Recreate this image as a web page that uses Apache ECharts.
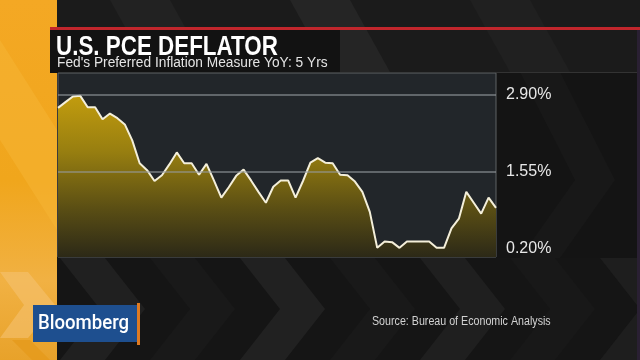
<!DOCTYPE html>
<html><head><meta charset="utf-8">
<script src="https://cdn.jsdelivr.net/npm/echarts@6/dist/echarts.min.js"></script>
<style>html,body{margin:0;padding:0;background:#151515;}#c{width:640px;height:360px;}</style>
</head><body><div id="c"></div>
<script>
// ---- data ----
const months = [
 '2011-06','2011-07','2011-08','2011-09','2011-10','2011-11','2011-12',
 '2012-01','2012-02','2012-03','2012-04','2012-05','2012-06','2012-07','2012-08','2012-09','2012-10','2012-11','2012-12',
 '2013-01','2013-02','2013-03','2013-04','2013-05','2013-06','2013-07','2013-08','2013-09','2013-10','2013-11','2013-12',
 '2014-01','2014-02','2014-03','2014-04','2014-05','2014-06','2014-07','2014-08','2014-09','2014-10','2014-11','2014-12',
 '2015-01','2015-02','2015-03','2015-04','2015-05','2015-06','2015-07','2015-08','2015-09','2015-10','2015-11','2015-12',
 '2016-01','2016-02','2016-03','2016-04','2016-05'
];
const pce = [
 2.67,2.77,2.87,2.88,2.68,2.68,2.47,
 2.57,2.49,2.38,2.10,1.70,1.58,1.39,1.49,1.68,1.89,1.70,1.70,
 1.50,1.69,1.40,1.10,1.28,1.48,1.59,1.40,1.20,1.01,1.29,1.40,
 1.40,1.10,1.39,1.71,1.79,1.71,1.70,1.50,1.49,1.38,1.20,0.85,
 0.22,0.33,0.32,0.22,0.33,0.33,0.33,0.33,0.22,0.22,0.56,0.73,
 1.20,1.01,0.82,1.10,0.92
];
const tickValues = [0.20, 1.55, 2.90];
const gridValues = [1.55, 2.90];
const titleText = 'U.S. PCE DEFLATOR';
const subtitleText = "Fed's Preferred Inflation Measure YoY: 5 Yrs";
const sourceText = 'Source: Bureau of Economic Analysis';
const brandText = 'Bloomberg';

// ---- decoration helpers ----
function chevron(x, y0, y1, w, d, fill) {
  const ym = (y0 + y1) / 2;
  return { type: 'polygon', z: -8, silent: true,
    shape: { points: [[x, y0], [x + w, y0], [x + w + d, ym], [x + w, y1], [x, y1], [x + d, ym]] },
    style: { fill: fill } };
}
const deco = [];
deco.push({ type: 'rect', z: -10, silent: true, shape: { x: 0, y: 0, width: 640, height: 360 }, style: { fill: '#151515' } });
// top band stripes
deco.push({ type: 'rect', z: -9, silent: true, shape: { x: 50, y: 0, width: 590, height: 72 }, style: { fill: '#1b1b1b' } });
[[110, '#222222'], [290, '#252525'], [470, '#202020']].forEach(function (s) {
  deco.push({ type: 'polygon', z: -8, silent: true, shape: { points: [[s[0], 0], [s[0] + 60, 0], [s[0] + 100, 72], [s[0] + 40, 72]] }, style: { fill: s[1] } });
});
// bottom chevrons
[[60, '#202020'], [150, '#191919'], [240, '#212121'], [330, '#191919'], [420, '#1f1f1f'], [510, '#181818'], [600, '#1e1e1e']].forEach(function (c) {
  deco.push(chevron(c[0], 258, 360, 45, 40, c[1]));
});
// right panel
deco.push({ type: 'rect', z: -7, silent: true, shape: { x: 496, y: 72, width: 141, height: 186 }, style: { fill: '#141414' } });
deco.push({ type: 'polygon', z: -6, silent: true, shape: { points: [[520, 72], [560, 72], [615, 180], [560, 258], [520, 258], [575, 180]] }, style: { fill: '#181818' } });
deco.push({ type: 'rect', z: -6, silent: true, shape: { x: 496, y: 72, width: 141, height: 1 }, style: { fill: '#333333' } });
deco.push({ type: 'rect', z: -6, silent: true, shape: { x: 637, y: 30, width: 3, height: 330 }, style: { fill: '#2a2033' } });
// orange strip
deco.push({ type: 'rect', z: -5, silent: true, shape: { x: 0, y: 0, width: 57, height: 360 },
  style: { fill: new echarts.graphic.LinearGradient(0, 0, 0, 1, [
    { offset: 0, color: '#f4a824' }, { offset: 0.5, color: '#f0a61c' }, { offset: 0.78, color: '#f1b143' }, { offset: 1, color: '#e8a22a' }]) } });
deco.push({ type: 'polygon', z: -4, silent: true, shape: { points: [[0, 40], [57, 130], [57, 230], [0, 140]] }, style: { fill: '#f6b535', opacity: 0.5 } });
deco.push({ type: 'polygon', z: -4, silent: true, shape: { points: [[0, 272], [28, 272], [55, 305], [28, 338], [0, 338], [24, 305]] }, style: { fill: '#f5c170', opacity: 0.6 } });
deco.push({ type: 'polygon', z: -4, silent: true, shape: { points: [[12, 340], [30, 340], [50, 360], [32, 360]] }, style: { fill: '#e59a1c', opacity: 0.8 } });
// red rule and title box
deco.push({ type: 'rect', z: -3, silent: true, shape: { x: 50, y: 27, width: 590, height: 3 }, style: { fill: '#c1262c' } });
deco.push({ type: 'rect', z: -3, silent: true, shape: { x: 50, y: 30, width: 290, height: 43 }, style: { fill: '#121212' } });
// titles
deco.push({ type: 'text', z: 10, silent: true, x: 56, y: 47, scaleX: 0.8, style: { text: titleText, fill: '#ffffff', font: "bold 28px 'Liberation Sans', Arial, sans-serif", textVerticalAlign: 'middle' } });
deco.push({ type: 'text', z: 10, silent: true, x: 57, y: 63, scaleX: 0.98, style: { text: subtitleText, fill: '#e4e4e4', font: "14px 'Liberation Sans', Arial, sans-serif", textVerticalAlign: 'middle' } });
// bottom brand + source
deco.push({ type: 'rect', z: 5, silent: true, shape: { x: 33, y: 305, width: 104, height: 37 }, style: { fill: '#1e4f8f' } });
deco.push({ type: 'rect', z: 5, silent: true, shape: { x: 137, y: 303, width: 3, height: 42 }, style: { fill: '#de7a22' } });
deco.push({ type: 'text', z: 10, silent: true, x: 38, y: 324, scaleX: 0.93, style: { text: brandText, fill: '#ffffff', font: "500 20px Roboto, 'Liberation Sans', sans-serif", textVerticalAlign: 'middle' } });
deco.push({ type: 'text', z: 10, silent: true, x: 372, y: 322, scaleX: 0.89, style: { text: sourceText, fill: '#d2d2d2', font: "12px 'Liberation Sans', Arial, sans-serif", textVerticalAlign: 'middle' } });

const markData = tickValues.map(function (v) {
  return { yAxis: v, lineStyle: { color: gridValues.indexOf(v) >= 0 ? 'rgba(150,155,158,0.55)' : 'rgba(0,0,0,0)' } };
});

const chart = echarts.init(document.getElementById('c'), null, { renderer: 'canvas' });
chart.setOption({
  animation: false,
  backgroundColor: 'transparent',
  graphic: { elements: deco },
  grid: { left: 58, right: 144, top: 73, bottom: 103, show: true, backgroundColor: '#22262a', borderColor: '#5e6265', borderWidth: 1, containLabel: false },
  xAxis: { type: 'category', data: months, boundaryGap: false, show: false },
  yAxis: { type: 'value', min: 0.06, max: 3.28, show: false, splitLine: { show: false } },
  series: [{
    type: 'line', data: pce, symbol: 'none', smooth: false,
    lineStyle: { color: '#f4efda', width: 2 },
    areaStyle: { origin: 'start', opacity: 1, color: new echarts.graphic.LinearGradient(0, 0, 0, 1, [
      { offset: 0, color: '#c29c0e' }, { offset: 0.35, color: '#977e10' }, { offset: 0.7, color: '#5a4e14' }, { offset: 1, color: '#2c2917' }]) },
    markLine: {
      silent: true, symbol: 'none', animation: false,
      lineStyle: { type: 'solid', width: 2 },
      label: { position: 'end', distance: 10, color: '#e8e8e8', fontSize: 16, fontFamily: "'Liberation Sans', Arial, sans-serif",
        formatter: function (p) { return p.value.toFixed(2) + '%'; } },
      data: markData
    }
  }]
});
</script></body></html>
